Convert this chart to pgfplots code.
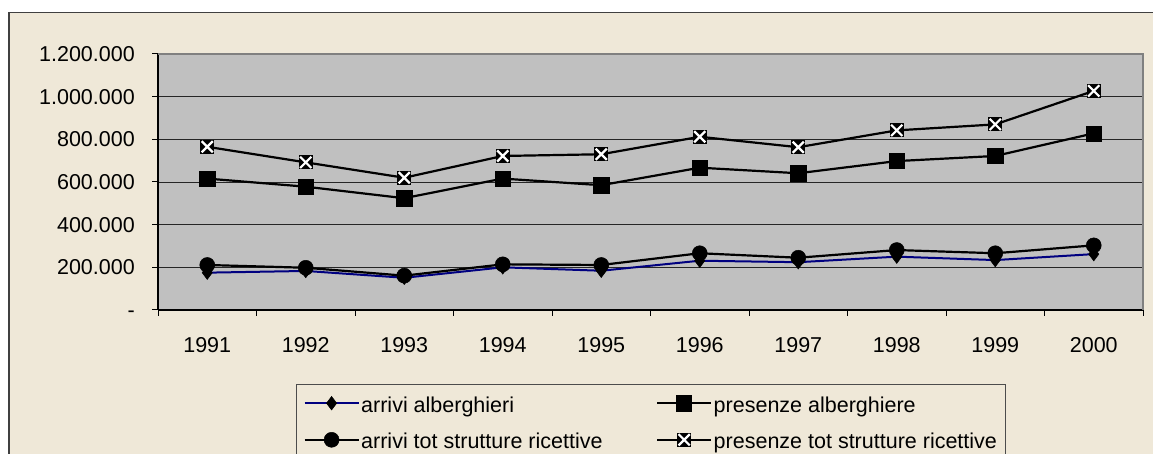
\documentclass[border=0pt]{standalone}
\usepackage{fontspec}
\setmainfont{Liberation Sans}
\usepackage{pgfplots}
\pgfplotsset{compat=1.18}
\definecolor{chartbg}{RGB}{239,232,216}
\definecolor{plotbg}{RGB}{192,192,192}
\definecolor{navy}{RGB}{0,0,128}
\pgfdeclareplotmark{boxx}{%
  \pgfsetfillcolor{black}%
  \pgfpathrectangle{\pgfqpoint{-\pgfplotmarksize}{-\pgfplotmarksize}}{\pgfqpoint{2\pgfplotmarksize}{2\pgfplotmarksize}}%
  \pgfusepathqfill
  \pgfsetstrokecolor{white}\pgfsetlinewidth{2.2pt}%
  \pgfpathmoveto{\pgfqpoint{-.8\pgfplotmarksize}{-.8\pgfplotmarksize}}%
  \pgfpathlineto{\pgfqpoint{.8\pgfplotmarksize}{.8\pgfplotmarksize}}%
  \pgfpathmoveto{\pgfqpoint{-.8\pgfplotmarksize}{.8\pgfplotmarksize}}%
  \pgfpathlineto{\pgfqpoint{.8\pgfplotmarksize}{-.8\pgfplotmarksize}}%
  \pgfusepathqstroke
}
\begin{document}
\begin{tikzpicture}
\useasboundingbox (0pt,0pt) rectangle (1153pt,454pt);
\fill[white] (0pt,0pt) rectangle (1153pt,454pt);
\filldraw[fill=chartbg, draw=black!75, line width=1.5pt] (8.75pt,-10pt) rectangle (1165pt,441.25pt);
\begin{axis}[
  at={(158pt,144pt)}, anchor=south west,
  scale only axis, width=985pt, height=256pt,
  xmin=0.5, xmax=10.5, ymin=0, ymax=1200000,
  axis background/.style={fill=plotbg},
  axis lines*=left, axis line style={-, black, line width=1.2pt},
  xtick={0.5,1.5,2.5,3.5,4.5,5.5,6.5,7.5,8.5,9.5,10.5},
  x tick label as interval,
  xticklabels={1991,1992,1993,1994,1995,1996,1997,1998,1999,2000},
  ytick={0,200000,400000,600000,800000,1000000,1200000},
  yticklabels={{\vphantom{0}-},200.000,400.000,600.000,800.000,1.000.000,1.200.000},
  tick align=outside, major tick length=6pt,
  tick style={black, line width=1pt},
  ymajorgrids, grid style={black!85, line width=0.9pt},
  tick label style={font=\fontsize{21.5}{26}\selectfont},
  yticklabel style={anchor=east, inner sep=0pt, xshift=-17pt},
  xticklabel style={anchor=center, inner sep=0pt, yshift=-29.5pt},
  scaled y ticks=false,
  clip=false,
  legend columns=2,
  legend cell align=left,
  legend style={at={(0.1401,-0.28906)}, anchor=north west,
    draw=black!70, fill=chartbg, line width=1pt,
    font=\fontsize{21.5}{26}\selectfont,
    inner xsep=7pt, inner ysep=7.2pt, row sep=13.6pt,
    /tikz/every even column/.append style={column sep=52pt},
    nodes={inner xsep=1.5pt, inner ysep=0.5pt, text height=20pt, text depth=2pt}},
  legend image code/.code={\draw[mark repeat=2,mark phase=2,#1] plot coordinates {(0pt,0pt) (27pt,0pt) (54pt,0pt)};},
]
\addplot[navy, line width=2pt, mark=diamond*, mark size=6.8pt, mark options={black, fill=black, line width=0.5pt}]
  coordinates {(1,175000) (2,183000) (3,151000) (4,200000) (5,184000) (6,231000) (7,224000) (8,250000) (9,234000) (10,262000)};
\addlegendentry{arrivi alberghieri}
\addplot[black, line width=2.2pt, mark=square*, mark size=7.6pt, mark options={fill=black, line width=0.5pt}]
  coordinates {(1,616000) (2,578000) (3,524000) (4,616000) (5,585000) (6,667000) (7,641000) (8,698000) (9,722000) (10,828000)};
\addlegendentry{presenze alberghiere}
\addplot[black, line width=2.2pt, mark=*, mark size=7.5pt, mark options={fill=black, line width=0.5pt}]
  coordinates {(1,211000) (2,198000) (3,161000) (4,214000) (5,211000) (6,266000) (7,245000) (8,281000) (9,266000) (10,303000)};
\addlegendentry{arrivi tot strutture ricettive}
\addplot[black, line width=2.2pt, mark=boxx, mark size=7pt]
  coordinates {(1,765000) (2,692000) (3,620000) (4,722000) (5,730000) (6,812000) (7,763000) (8,842000) (9,870000) (10,1027000)};
\addlegendentry{presenze tot strutture ricettive}
\draw[black!50, line width=2pt] (rel axis cs:0,1) -- (rel axis cs:1,1) -- (rel axis cs:1,0);
\end{axis}
\end{tikzpicture}
\end{document}
